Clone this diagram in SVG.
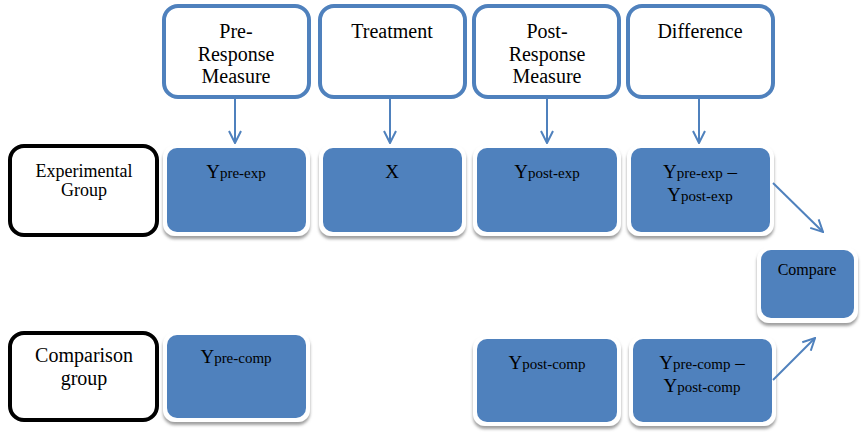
<svg xmlns="http://www.w3.org/2000/svg" width="866" height="436" viewBox="0 0 866 436" font-family="'Liberation Serif', 'DejaVu Serif', serif">
  <defs>
    <filter id="shadow" x="-10%" y="-10%" width="120%" height="130%">
      <feDropShadow dx="0" dy="3" stdDeviation="1.6" flood-color="#7f7f7f" flood-opacity="0.75"/>
    </filter>
    <marker id="arrow" viewBox="0 0 14 14" refX="13" refY="7" markerWidth="14" markerHeight="14" markerUnits="userSpaceOnUse" orient="auto">
      <path d="M1,1 L13,7 L1,13" fill="none" stroke="#4f81bd" stroke-width="2"/>
    </marker>
  </defs>
  <style>
    .head { fill: #ffffff; stroke: #4f81bd; stroke-width: 4; }
    .group { fill: #ffffff; stroke: #000000; stroke-width: 4; }
    .frame { fill: #ffffff; filter: url(#shadow); }
    .cell { fill: #4f81bd; }
    text { font-family: 'Liberation Serif', 'DejaVu Serif', serif; fill: #000000; text-anchor: middle; }
    .t20 { font-size: 20px; }
    .t19 { font-size: 19px; }
    .t18 { font-size: 18px; }
    .t16 { font-size: 16px; }
    .sub { font-size: 15px; }
    .conn { stroke: #4f81bd; stroke-width: 2; fill: none; marker-end: url(#arrow); }
  </style>

  <rect width="866" height="436" fill="#ffffff"/>

  <!-- column headers -->
  <g id="pre-response">
    <rect class="head" x="164" y="6" width="145" height="91" rx="14"/>
    <text class="t20" x="236" y="38">Pre-</text>
    <text class="t20" x="236" y="61">Response</text>
    <text class="t20" x="236" y="83">Measure</text>
  </g>
  <g id="treatment">
    <rect class="head" x="320" y="6" width="145" height="91" rx="14"/>
    <text class="t20" x="392" y="38">Treatment</text>
  </g>
  <g id="post-response">
    <rect class="head" x="474" y="6" width="145" height="91" rx="14"/>
    <text class="t20" x="547" y="38">Post-</text>
    <text class="t20" x="547" y="61">Response</text>
    <text class="t20" x="547" y="83">Measure</text>
  </g>
  <g id="difference">
    <rect class="head" x="628" y="6" width="145" height="91" rx="14"/>
    <text class="t20" x="700" y="38">Difference</text>
  </g>

  <!-- row labels -->
  <g id="experimental-group">
    <rect class="group" x="10" y="146" width="147" height="89" rx="14"/>
    <text class="t18" x="84" y="177">Experimental</text>
    <text class="t18" x="84" y="196">Group</text>
  </g>
  <g id="comparison-group">
    <rect class="group" x="10" y="333" width="147" height="87" rx="14"/>
    <text class="t20" x="84" y="362">Comparison</text>
    <text class="t20" x="84" y="385">group</text>
  </g>

  <!-- experimental row -->
  <g id="y-pre-exp">
    <rect class="frame" x="163" y="145" width="147" height="91" rx="12"/>
    <rect class="cell" x="167" y="148" width="139" height="84" rx="10"/>
    <text x="236" y="178"><tspan class="t19">Y</tspan><tspan class="sub">pre-exp</tspan></text>
  </g>
  <g id="x-treatment">
    <rect class="frame" x="319" y="145" width="147" height="91" rx="12"/>
    <rect class="cell" x="323" y="148" width="139" height="84" rx="10"/>
    <text class="t19" x="392" y="178">X</text>
  </g>
  <g id="y-post-exp">
    <rect class="frame" x="473" y="145" width="148" height="91" rx="12"/>
    <rect class="cell" x="477" y="148" width="140" height="84" rx="10"/>
    <text x="547" y="178"><tspan class="t19">Y</tspan><tspan class="sub">post-exp</tspan></text>
  </g>
  <g id="diff-exp">
    <rect class="frame" x="627" y="145" width="147" height="91" rx="12"/>
    <rect class="cell" x="631" y="148" width="139" height="84" rx="10"/>
    <text x="700" y="178"><tspan class="t19">Y</tspan><tspan class="sub">pre-exp</tspan><tspan class="t19"> –</tspan></text>
    <text x="700" y="201"><tspan class="t19">Y</tspan><tspan class="sub">post-exp</tspan></text>
  </g>

  <!-- comparison node -->
  <g id="compare">
    <rect class="frame" x="757" y="247" width="101" height="76" rx="12"/>
    <rect class="cell" x="761" y="250" width="93" height="68" rx="10"/>
    <text class="t16" x="807" y="275">Compare</text>
  </g>

  <!-- comparison row -->
  <g id="y-pre-comp">
    <rect class="frame" x="163" y="332" width="147" height="90" rx="12"/>
    <rect class="cell" x="167" y="335" width="139" height="83" rx="10"/>
    <text x="236" y="363"><tspan class="t19">Y</tspan><tspan class="sub">pre-comp</tspan></text>
  </g>
  <g id="y-post-comp">
    <rect class="frame" x="473" y="336" width="148" height="90" rx="12"/>
    <rect class="cell" x="477" y="339" width="140" height="83" rx="10"/>
    <text x="547" y="369"><tspan class="t19">Y</tspan><tspan class="sub">post-comp</tspan></text>
  </g>
  <g id="diff-comp">
    <rect class="frame" x="629" y="336" width="147" height="90" rx="12"/>
    <rect class="cell" x="633" y="339" width="139" height="83" rx="10"/>
    <text x="702" y="369"><tspan class="t19">Y</tspan><tspan class="sub">pre-comp</tspan><tspan class="t19"> –</tspan></text>
    <text x="702" y="392"><tspan class="t19">Y</tspan><tspan class="sub">post-comp</tspan></text>
  </g>

  <!-- connectors -->
  <g id="connectors">
    <line class="conn" x1="235" y1="97" x2="235" y2="143"/>
    <line class="conn" x1="390" y1="97" x2="390" y2="143"/>
    <line class="conn" x1="547" y1="97" x2="547" y2="143"/>
    <line class="conn" x1="699" y1="97" x2="699" y2="143"/>
    <line class="conn" x1="773" y1="183" x2="823" y2="232"/>
    <line class="conn" x1="773" y1="380" x2="815" y2="338"/>
  </g>
</svg>
